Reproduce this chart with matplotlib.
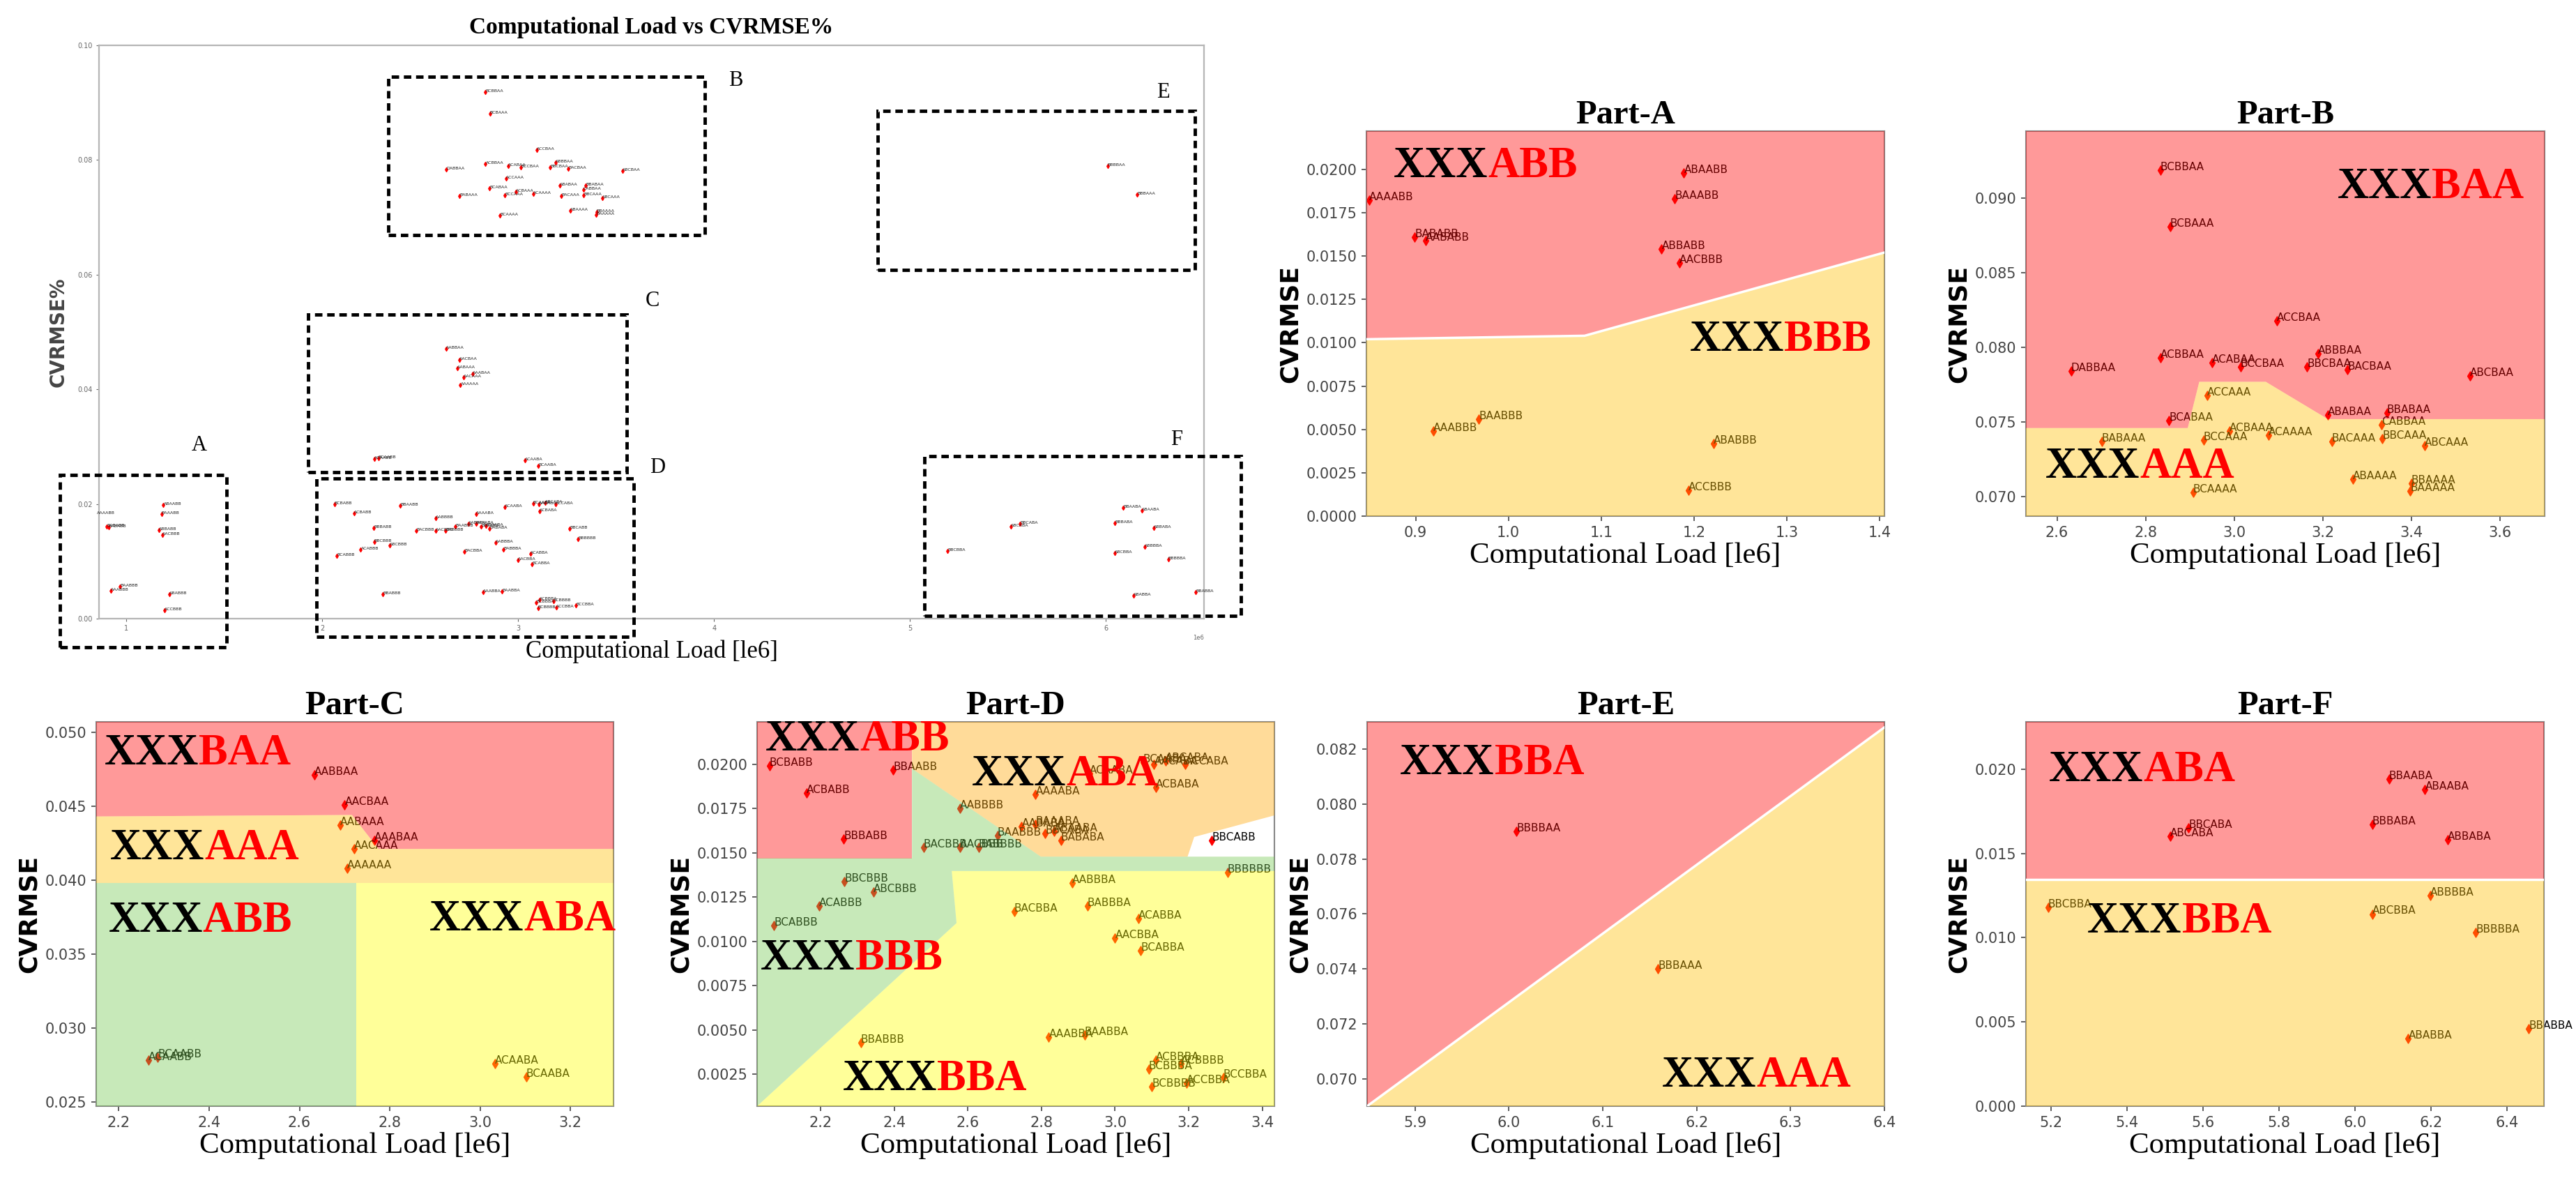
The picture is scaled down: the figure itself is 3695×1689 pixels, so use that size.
import matplotlib
matplotlib.use('Agg')
import matplotlib.pyplot as plt
from matplotlib.patches import Polygon, Rectangle
from matplotlib.ticker import MultipleLocator

# Values: computational load in 1e6, CVRMSE as a fraction

# Part-A
a_names = ['AAAABB', 'ABAABB', 'BAAABB', 'BABABB', 'AABABB', 'ABBABB', 'AACBBB',
           'AAABBB', 'BAABBB', 'ABABBB', 'ACCBBB']
a_load = [0.850, 1.189, 1.179, 0.899, 0.911, 1.165, 1.184, 0.919, 0.968, 1.221, 1.194]
a_cvrmse = [0.0182, 0.0198, 0.0183, 0.0161, 0.0159, 0.0154, 0.0146,
            0.0049, 0.0056, 0.0042, 0.0015]
a_bound_load = [0.847, 1.082, 1.405]
a_bound_cvrmse = [0.0102, 0.0104, 0.0152]

# Part-B
b_names = ['BCBBAA', 'BCBAAA', 'ACCBAA', 'ACBBAA', 'DABBAA', 'ACABAA', 'BCCBAA',
           'ABBBAA', 'BBCBAA', 'BACBAA', 'ABCBAA', 'ACCAAA', 'BCABAA', 'ABABAA',
           'BBABAA', 'CABBAA', 'ACBAAA', 'ACAAAA', 'BABAAA', 'BCCAAA', 'BACAAA',
           'BBCAAA', 'ABCAAA', 'ABAAAA', 'BBAAAA', 'BAAAAA', 'BCAAAA']
b_load = [2.833, 2.855, 3.096, 2.833, 2.632, 2.950, 3.014, 3.189, 3.164, 3.255, 3.532,
          2.939, 2.853, 3.211, 3.344, 3.332, 2.989, 3.077, 2.701, 2.931, 3.220,
          3.334, 3.429, 3.267, 3.399, 3.397, 2.907]
b_cvrmse = [0.0919, 0.0881, 0.0818, 0.0793, 0.0784, 0.0790, 0.0787, 0.0796, 0.0787,
            0.0785, 0.0781, 0.0768, 0.0751, 0.0755, 0.0756, 0.0748, 0.0744, 0.0741,
            0.0737, 0.0738, 0.0737, 0.0739, 0.0734, 0.0712, 0.0709, 0.0704, 0.0703]
b_bound_load = [2.53, 2.895, 2.921, 3.071, 3.211, 3.70]
b_bound_cvrmse = [0.0746, 0.0746, 0.0777, 0.0777, 0.0752, 0.0752]

# Part-C
c_names = ['AABBAA', 'AACBAA', 'AABAAA', 'AAABAA', 'AACAAA', 'AAAAAA',
           'ACAABB', 'BCAABB', 'ACAABA', 'BCAABA']
c_load = [2.633, 2.700, 2.690, 2.766, 2.721, 2.705, 2.265, 2.286, 3.033, 3.102]
c_cvrmse = [0.0471, 0.0451, 0.0437, 0.0427, 0.0421, 0.0408, 0.0278, 0.0280, 0.0276, 0.0267]
c_red = [(2.15, 0.0443), (2.716, 0.0444), (2.757, 0.0428), (2.775, 0.0421),
         (3.295, 0.0421), (3.295, 0.0507), (2.15, 0.0507)]
c_yellow = [(2.15, 0.0398), (3.295, 0.0398), (3.295, 0.0421), (2.775, 0.0421),
            (2.757, 0.0428), (2.716, 0.0444), (2.15, 0.0443)]
c_green = [(2.15, 0.0247), (2.725, 0.0247), (2.725, 0.0398), (2.15, 0.0398)]
c_lemon = [(2.725, 0.0247), (3.295, 0.0247), (3.295, 0.0398), (2.725, 0.0398)]

# Part-D
d_names = ['BCBABB', 'BBAABB', 'ACBABB', 'BBBABB',
           'AABBBB', 'BACBBB', 'AACBBB', 'BABBBB', 'BAABBB',
           'BBCBBB', 'ABCBBB', 'ACABBB', 'BCABBB',
           'ACAABA', 'BCAABA', 'AACABA', 'ABCABA', 'ACCABA', 'ACBABA', 'AAAABA',
           'AABABA', 'BAAABA', 'BBCABA', 'ABAABA', 'BABABA',
           'BBCABB', 'BBBBBB',
           'AABBBA', 'BACBBA', 'BABBBA', 'ACABBA', 'AACBBA', 'BCABBA', 'BBABBB',
           'AAABBA', 'BAABBA', 'ACBBBA', 'BCBBBA', 'ACBBBB', 'BCCBBA', 'BCBBBB', 'ACCBBA']
d_load = [2.061, 2.397, 2.161, 2.262,
          2.578, 2.479, 2.578, 2.629, 2.680,
          2.264, 2.343, 2.196, 2.073,
          2.931, 3.076, 3.106, 3.137, 3.191, 3.110, 2.784,
          2.746, 2.784, 2.810, 2.834, 2.853,
          3.263, 3.306,
          2.883, 2.726, 2.925, 3.064, 3.000, 3.070, 2.309,
          2.820, 2.917, 3.110, 3.091, 3.179, 3.294, 3.100, 3.194]
d_cvrmse = [0.0199, 0.0197, 0.0184, 0.0158,
            0.0175, 0.0153, 0.0153, 0.0153, 0.0160,
            0.0134, 0.0128, 0.0120, 0.0109,
            0.0195, 0.0201, 0.0200, 0.0202, 0.0200, 0.0187, 0.0183,
            0.0165, 0.0166, 0.0161, 0.0162, 0.0157,
            0.0157, 0.0139,
            0.0133, 0.0117, 0.0120, 0.0113, 0.0102, 0.0095, 0.0043,
            0.0046, 0.0047, 0.0033, 0.0028, 0.0031, 0.0023, 0.0018, 0.0020]
d_red = [(2.027, 0.0147), (2.448, 0.0147), (2.448, 0.0224), (2.027, 0.0224)]
d_orange = [(2.448, 0.0224), (2.448, 0.01976), (2.798, 0.01479), (3.197, 0.01479),
            (3.215, 0.0159), (3.433, 0.01712), (3.433, 0.0224)]
d_lemon = [(2.027, 0.0007), (2.569, 0.01104), (2.556, 0.01398), (3.433, 0.01398),
           (3.433, 0.0007)]
d_green = [(2.027, 0.0007), (2.027, 0.0147), (2.448, 0.0147), (2.448, 0.01976),
           (2.798, 0.01479), (3.433, 0.01479), (3.433, 0.01398), (2.556, 0.01398),
           (2.569, 0.01104)]

# Part-E
e_names = ['BBBBAA', 'BBBAAA']
e_load = [6.008, 6.159]
e_cvrmse = [0.0790, 0.0740]
e_bound_load = [5.849, 6.40]
e_bound_cvrmse = [0.0690, 0.0828]

# Part-F
f_names = ['BBAABA', 'ABAABA', 'BBCABA', 'ABCABA', 'BBBABA', 'ABBABA',
           'ABBBBA', 'BBCBBA', 'ABCBBA', 'BBBBBA', 'ABABBA', 'BBABBA']
f_load = [6.089, 6.184, 5.562, 5.514, 6.045, 6.244, 6.198, 5.192, 6.045, 6.318, 6.140, 6.457]
f_cvrmse = [0.0194, 0.0188, 0.0165, 0.0160, 0.0167, 0.0158,
            0.0125, 0.0118, 0.0114, 0.0103, 0.0040, 0.0046]
f_bound_load = [5.134, 6.497]
f_bound_cvrmse = [0.01345, 0.01345]

# Overview boxes: name, load range, cvrmse range, letter position
box_names = ['A', 'B', 'C', 'D', 'E', 'F']
box_load = [(0.66, 1.51), (2.335, 3.953), (1.928, 3.553), (1.971, 3.589), (4.835, 6.453), (5.074, 6.69)]
box_cvrmse = [(-0.005, 0.0251), (0.0669, 0.0945), (0.0255, 0.0530), (-0.0032, 0.0245),
              (0.0608, 0.0886), (0.0005, 0.0284)]
box_tag = [(1.37, 0.0302), (4.11, 0.0938), (3.685, 0.0554), (3.71, 0.0263), (6.29, 0.0918), (6.36, 0.0312)]

RED = 'red'
YEL = '#FFC000'
ORG = '#FFA500'
GRN = '#75C850'
LEM = 'yellow'
SERIF = 'Liberation Serif'


def region_label(ax, x, y, tail):
    """Black XXX followed by the red group code."""
    t = ax.text(x, y, 'XXX', fontsize=45, fontweight='bold', family=SERIF, color='black', zorder=6)
    ax.annotate(tail, xy=(1, 0), xycoords=t, ha='left', va='bottom', fontsize=45,
                fontweight='bold', family=SERIF, color='red', zorder=6)


def split_regions(bx, by, ylim, top_color, bottom_color):
    upper = list(zip(bx, by)) + [(bx[-1], ylim[1]), (bx[0], ylim[1])]
    lower = list(zip(bx, by)) + [(bx[-1], ylim[0]), (bx[0], ylim[0])]
    return [(top_color, upper), (bottom_color, lower)]


def draw_part(ax, title, names, load, cvrmse, regions, labels, xlim, ylim, xstep, ystep, bound=None):
    ax.set_xlim(xlim)
    ax.set_ylim(ylim)
    # points and names sit under the translucent decision regions
    ax.scatter(load, cvrmse, marker='d', s=45, color='red', zorder=2)
    for n, x, y in zip(names, load, cvrmse):
        ax.text(x, y, n, fontsize=11, color='black', zorder=2)
    for color, verts in regions:
        ax.add_patch(Polygon(verts, closed=True, facecolor=color, edgecolor='none', alpha=0.4, zorder=3))
    if bound is not None:
        ax.plot(bound[0], bound[1], color='white', lw=2.5, zorder=4)
    for x, y, tail in labels:
        region_label(ax, x, y, tail)
    ax.xaxis.set_major_locator(MultipleLocator(xstep))
    ax.yaxis.set_major_locator(MultipleLocator(ystep))
    ax.tick_params(labelsize=15, colors='#444444', length=5, width=1.2, pad=5)
    for s in ax.spines.values():
        s.set_color('#888888')
        s.set_linewidth(1.5)
    ax.set_title(title, fontsize=35, fontweight='bold', family=SERIF, pad=8)
    ax.set_xlabel('Computational Load [le6]', fontsize=31, family=SERIF, labelpad=2)
    ax.set_ylabel('CVRMSE', fontsize=26, fontweight='bold', labelpad=4)


def draw_overview(ax):
    all_names = a_names + b_names + c_names + d_names + e_names + f_names
    all_load = a_load + b_load + c_load + d_load + e_load + f_load
    all_cvrmse = a_cvrmse + b_cvrmse + c_cvrmse + d_cvrmse + e_cvrmse + f_cvrmse
    xs = [v * 1e6 for v in all_load]
    ax.scatter(xs, all_cvrmse, marker='d', s=9, color='red', zorder=3)
    for n, x, y in zip(all_names, xs, all_cvrmse):
        ax.text(x, y, n, fontsize=4.5, color='#222222', zorder=3)
    ax.set_xlim(0.86e6, 6.5e6)
    ax.set_ylim(0, 0.10)
    ax.yaxis.set_major_locator(MultipleLocator(0.02))
    ax.xaxis.set_major_locator(MultipleLocator(1e6))
    ax.tick_params(labelsize=7, colors='#666666', length=3, width=0.8)
    ax.xaxis.get_offset_text().set_fontsize(6)
    ax.xaxis.get_offset_text().set_color('#666666')
    for s in ax.spines.values():
        s.set_color('#b5b5b5')
        s.set_linewidth(1.6)
    ax.set_title('Computational Load vs CVRMSE%', fontsize=24, fontweight='bold', family=SERIF, pad=12)
    ax.set_xlabel('Computational Load [le6]', fontsize=25, family=SERIF, labelpad=8)
    ax.set_ylabel('CVRMSE%', fontsize=20, fontweight='bold', color='#444444', labelpad=10)

    # dashed frames marking the zoomed parts
    for name, (x0, x1), (y0, y1), (tx, ty) in zip(box_names, box_load, box_cvrmse, box_tag):
        ax.add_patch(Rectangle((x0 * 1e6, y0), (x1 - x0) * 1e6, y1 - y0, fill=False,
                               edgecolor='black', lw=3.5, linestyle=(0, (2.2, 1.4)),
                               clip_on=False, zorder=5))
        ax.text(tx * 1e6, ty, name, fontsize=22, family=SERIF, ha='center', va='center', clip_on=False)


def main():
    fig = plt.figure(figsize=(36.95, 16.89), dpi=100)
    W, H = 3695.0, 1689.0

    def axes_px(left, top, right, bottom):
        return fig.add_axes([left / W, 1 - bottom / H, (right - left) / W, (bottom - top) / H])

    draw_overview(axes_px(142, 65, 1727, 887))

    xl, yl = (0.847, 1.405), (0.0, 0.0222)
    draw_part(axes_px(1960, 188, 2703, 740), 'Part-A', a_names, a_load, a_cvrmse,
              split_regions(a_bound_load, a_bound_cvrmse, yl, RED, YEL),
              [(0.876, 0.01956, 'ABB'), (1.195, 0.00953, 'BBB')], xl, yl, 0.1, 0.0025,
              bound=(a_bound_load, a_bound_cvrmse))

    xl, yl = (2.53, 3.70), (0.0687, 0.0945)
    draw_part(axes_px(2906, 188, 3650, 740), 'Part-B', b_names, b_load, b_cvrmse,
              split_regions(b_bound_load, b_bound_cvrmse, yl, RED, YEL),
              [(3.233, 0.0900, 'BAA'), (2.574, 0.07127, 'AAA')], xl, yl, 0.2, 0.005)

    xl, yl = (2.15, 3.295), (0.0247, 0.0507)
    draw_part(axes_px(138, 1035, 880, 1586), 'Part-C', c_names, c_load, c_cvrmse,
              [(RED, c_red), (YEL, c_yellow), (GRN, c_green), (LEM, c_lemon)],
              [(2.168, 0.0478, 'BAA'), (2.181, 0.0414, 'AAA'), (2.177, 0.0365, 'ABB'),
               (2.888, 0.0366, 'ABA')], xl, yl, 0.2, 0.005)

    xl, yl = (2.027, 3.433), (0.0007, 0.0224)
    draw_part(axes_px(1086, 1035, 1828, 1586), 'Part-D', d_names, d_load, d_cvrmse,
              [(RED, d_red), (ORG, d_orange), (LEM, d_lemon), (GRN, d_green)],
              [(2.049, 0.0208, 'ABB'), (2.611, 0.0188, 'ABA'), (2.037, 0.0084, 'BBB'),
               (2.26, 0.0016, 'BBA')], xl, yl, 0.2, 0.0025)

    xl, yl = (5.849, 6.40), (0.0690, 0.0830)
    draw_part(axes_px(1961, 1035, 2703, 1586), 'Part-E', e_names, e_load, e_cvrmse,
              split_regions(e_bound_load, e_bound_cvrmse, yl, RED, YEL),
              [(5.884, 0.0811, 'BBA'), (6.163, 0.0697, 'AAA')], xl, yl, 0.1, 0.002,
              bound=(e_bound_load, e_bound_cvrmse))

    xl, yl = (5.134, 6.497), (0.0, 0.0228)
    draw_part(axes_px(2906, 1035, 3649, 1586), 'Part-F', f_names, f_load, f_cvrmse,
              split_regions(f_bound_load, f_bound_cvrmse, yl, RED, YEL),
              [(5.195, 0.0193, 'ABA'), (5.296, 0.0103, 'BBA')], xl, yl, 0.2, 0.005,
              bound=(f_bound_load, f_bound_cvrmse))

    fig.savefig('out.png', dpi=100)
    plt.close(fig)


if __name__ == '__main__':
    main()
